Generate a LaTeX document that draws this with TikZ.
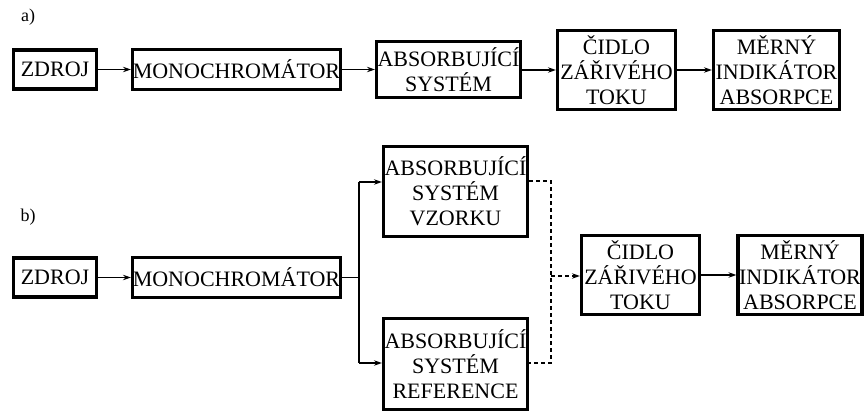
\documentclass[tikz,border=0pt]{standalone}
\usepackage{fontspec}
\setmainfont{Liberation Serif}
\usetikzlibrary{arrows.meta,calc}
\tikzset{
  blk/.style={draw=black, line width=3.2pt, inner sep=0pt, align=center,
    font=\fontsize{22}{25}\selectfont, text=black},
  conn/.style={line width=1.2pt, -{Stealth[length=8pt,width=5.5pt]}},
  plain/.style={line width=1.2pt},
  dconn/.style={line width=1.2pt, dash pattern=on 4pt off 3pt},
  lbl/.style={font=\fontsize{18}{20}\selectfont, inner sep=0pt}
}
\begin{document}
\begin{tikzpicture}[x=1pt,y=-1pt]
\useasboundingbox (0,0) rectangle (865,414);
% part a
\node[lbl] (la) at (28,17) {a)};
\node[blk, minimum width=83pt, minimum height=39pt] (za) at (55,69.5) {ZDROJ};
\node[blk, minimum width=208pt, minimum height=40pt] (ma) at (236.5,69.5) {MONOCHROMÁTOR};
\node[blk, minimum width=144pt, minimum height=56pt] (aa) at (448.5,69.5) {ABSORBUJÍCÍ\\SYSTÉM};
\node[blk, minimum width=118pt, minimum height=79pt] (ca) at (616.5,70) {ČIDLO\\ZÁŘIVÉHO\\TOKU};
\node[blk, minimum width=126pt, minimum height=79pt] (ra) at (776.5,70) {MĚRNÝ\\INDIKÁTOR\\ABSORPCE};
\draw[conn] (za.east) -- (ma.west);
\draw[conn] (ma.east) -- (aa.west);
\draw[conn] (aa.east |- ca.east) -- (ca.west);
\draw[conn] (ca.east) -- (ra.west);
% part b
\node[lbl] (lb) at (28,217) {b)};
\node[blk, minimum width=83pt, minimum height=39pt] (zb) at (55,277.5) {ZDROJ};
\node[blk, minimum width=208pt, minimum height=40pt] (mb) at (236.5,277.5) {MONOCHROMÁTOR};
\node[blk, minimum width=144pt, minimum height=90pt] (av) at (455.5,191.5) {ABSORBUJÍCÍ\\SYSTÉM\\VZORKU};
\node[blk, minimum width=144pt, minimum height=91pt] (ar) at (455.5,364) {ABSORBUJÍCÍ\\SYSTÉM\\REFERENCE};
\node[blk, minimum width=118pt, minimum height=79pt] (cb) at (640.5,275) {ČIDLO\\ZÁŘIVÉHO\\TOKU};
\node[blk, minimum width=124pt, minimum height=79pt] (rb) at (800,275) {MĚRNÝ\\INDIKÁTOR\\ABSORPCE};
\coordinate (br) at (359,277.5);
\coordinate (brt) at (359,182);
\coordinate (brb) at (359,363);
\coordinate (dx) at (551,276);
\draw[conn] (zb.east) -- (mb.west);
\draw[plain] (mb.east) -- (br);
\draw[plain] (brt) -- (brb);
\draw[conn] (brt) -- (brt -| av.west);
\draw[conn] (brb) -- (brb -| ar.west);
\draw[dconn] (av.east |- 0,181) -- (551,181) -- (551,363) -- (ar.east |- 0,363);
\draw[dconn, -{Stealth[length=8pt,width=5.5pt]}] (dx) -- (dx -| cb.west);
\draw[conn] (cb.east) -- (rb.west);
\end{tikzpicture}
\end{document}
